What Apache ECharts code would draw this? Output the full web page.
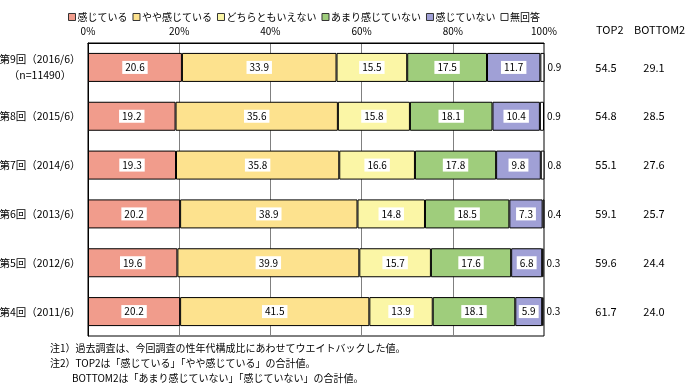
<!DOCTYPE html>
<html>
<head>
<meta charset="utf-8">
<script src="https://cdn.jsdelivr.net/npm/echarts@6/dist/echarts.min.js"></script>
<style>
html,body{margin:0;padding:0;background:#fff;}
#c{width:687px;height:387px;}
</style>
</head>
<body>
<div id="c"></div>
<script>
const categories = ['第9回（2016/6）\n（n=11490）','第8回（2015/6）','第7回（2014/6）','第6回（2013/6）','第5回（2012/6）','第4回（2011/6）'];
const seriesNames = ['感じている','やや感じている','どちらともいえない','あまり感じていない','感じていない','無回答'];
const feel       = [20.6, 19.2, 19.3, 20.2, 19.6, 20.2];
const someFeel   = [33.9, 35.6, 35.8, 38.9, 39.9, 41.5];
const neither    = [15.5, 15.8, 16.6, 14.8, 15.7, 13.9];
const notMuch    = [17.5, 18.1, 17.8, 18.5, 17.6, 18.1];
const notFeel    = [11.7, 10.4, 9.8, 7.3, 6.8, 5.9];
const noAnswer   = [0.9, 0.9, 0.8, 0.4, 0.3, 0.3];
const top2       = ['54.5','54.8','55.1','59.1','59.6','61.7'];
const bottom2    = ['29.1','28.5','27.6','25.7','24.4','24.0'];
const xTicks     = [0, 20, 40, 60, 80, 100];
const notes = [
  '注1）過去調査は、今回調査の性年代構成比にあわせてウエイトバックした値。',
  '注2）TOP2は「感じている」「やや感じている」の合計値。',
  'BOTTOM2は「あまり感じていない」「感じていない」の合計値。'
];

const colors = ['#f19c8c','#fde28e','#fbf6a6','#9fcd7c','#a0a0d6','#ffffff'];
const values = [feel, someFeel, neither, notMuch, notFeel, noAnswer];
const FONT = '"Noto Sans CJK JP", sans-serif';

const chart = echarts.init(document.getElementById('c'), null, {renderer:'canvas'});

const series = values.map((arr, i) => {
  const last = i === values.length - 1;
  return {
    name: seriesNames[i],
    type: 'bar',
    stack: 'total',
    barWidth: 29,
    data: arr,
    itemStyle: {color: colors[i], borderColor: '#000', borderWidth: 1},
    label: last ? {
      show: true, position: 'right', distance: 3,
      color: '#000', fontSize: 10, fontFamily: FONT
    } : {
      show: true, position: 'inside',
      color: '#000', fontSize: 10, fontFamily: FONT,
      backgroundColor: '#fff', padding: [2, 3, 1, 3]
    },
    emphasis: {disabled: true},
    silent: true
  };
});

chart.setOption({
  animation: false,
  textStyle: {fontFamily: FONT},
  legend: {
    left: 63, top: 7,
    itemWidth: 7, itemHeight: 7, itemGap: 5,
    icon: 'rect',
    textStyle: {fontSize: 10, color: '#000', fontFamily: FONT, padding: [0,0,0,-3]},
    itemStyle: {borderColor: '#333', borderWidth: 1},
    data: seriesNames
  },
  grid: {
    left: 88, right: 143, top: 43, bottom: 51,
    show: true, borderColor: '#000', borderWidth: 1,
    containLabel: false,
    outerBoundsMode: 'none'
  },
  xAxis: {
    type: 'value', position: 'top', min: 0, max: 100, interval: 20,
    axisLine: {show: true, lineStyle: {color: '#000'}},
    axisTick: {show: false},
    splitLine: {show: true, lineStyle: {color: '#808080', width: 1}},
    axisLabel: {
      margin: 7, color: '#000', fontSize: 10, fontFamily: FONT,
      formatter: v => xTicks.indexOf(v) >= 0 ? v + '%' : ''
    }
  },
  yAxis: [{
    type: 'category', inverse: true, data: categories,
    axisLine: {show: true, lineStyle: {color: '#000'}},
    axisTick: {show: false},
    axisLabel: {margin: 48, align: 'center', color: '#000', fontSize: 10.5, lineHeight: 16, fontFamily: FONT}
  }, {
    type: 'category', inverse: true, data: top2, position: 'right',
    axisLine: {show: false}, axisTick: {show: false},
    axisLabel: {margin: 62, align: 'center', color: '#000', fontSize: 11, fontFamily: FONT, padding: [0,0,8,0]}
  }, {
    type: 'category', inverse: true, data: bottom2, position: 'right',
    axisLine: {show: false}, axisTick: {show: false},
    axisLabel: {margin: 110, align: 'center', color: '#000', fontSize: 11, fontFamily: FONT, padding: [0,0,8,0]}
  }],
  graphic: [
    {type: 'text', left: 596, top: 24, style: {text: 'TOP2', fontSize: 11, fill: '#000', fontFamily: FONT}},
    {type: 'text', left: 634, top: 24, style: {text: 'BOTTOM2', fontSize: 11, fill: '#000', fontFamily: FONT}},
    {type: 'text', left: 50, top: 343, style: {text: notes[0], fontSize: 10, fill: '#000', fontFamily: FONT}},
    {type: 'text', left: 50, top: 358, style: {text: notes[1], fontSize: 10, fill: '#000', fontFamily: FONT}},
    {type: 'text', left: 72, top: 373, style: {text: notes[2], fontSize: 10, fill: '#000', fontFamily: FONT}}
  ],
  series: series
});
</script>
</body>
</html>
